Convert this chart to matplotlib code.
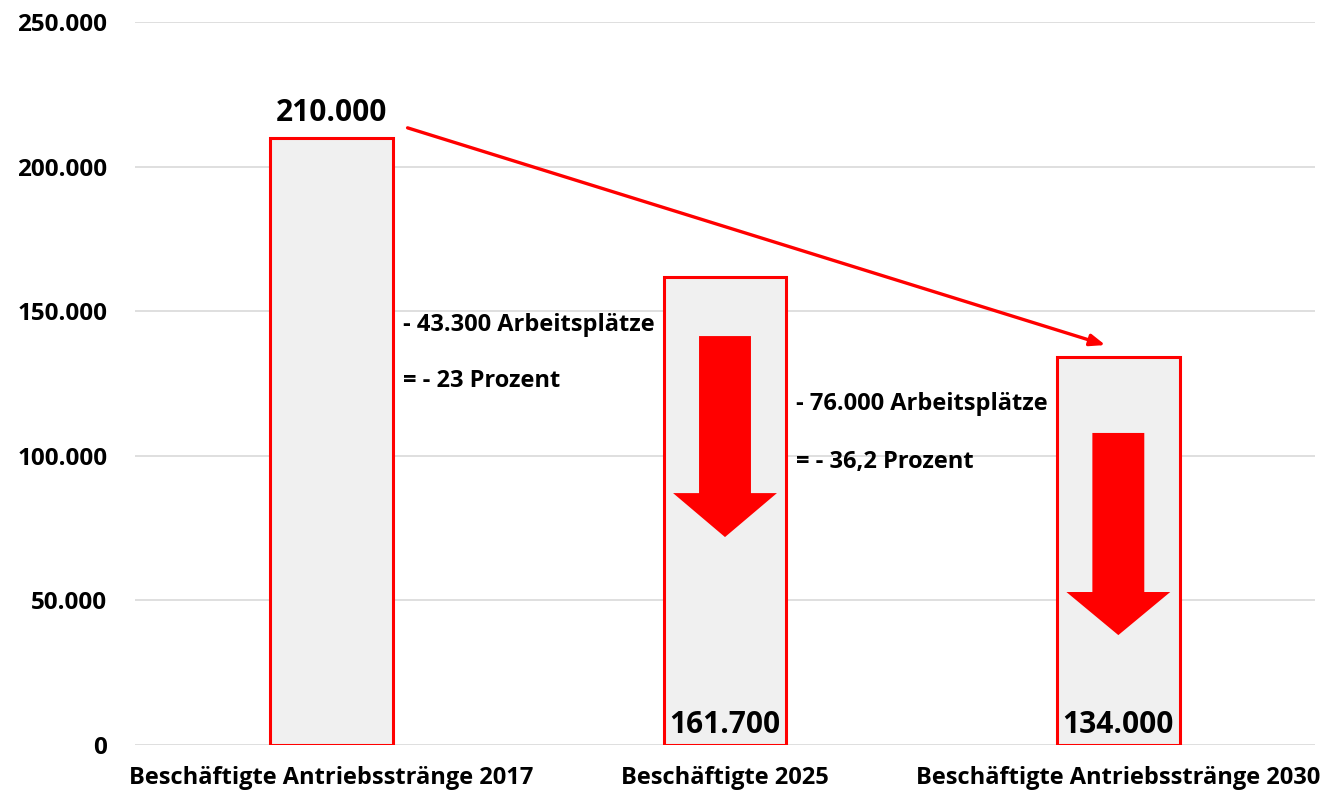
import matplotlib.pyplot as plt
import matplotlib.patches as patches

# Daten
kategorien = ["Beschäftigte Antriebsstränge 2017", "Beschäftigte 2025",
              "Beschäftigte Antriebsstränge 2030"]
werte = [210000, 161700, 134000]
wert_labels = ["210.000", "161.700", "134.000"]
y_ticks = [0, 50000, 100000, 150000, 200000, 250000]
y_tick_labels = ["0", "50.000", "100.000", "150.000", "200.000", "250.000"]
hinweise = [("- 43.300 Arbeitsplätze", "= - 23 Prozent"),
            ("- 76.000 Arbeitsplätze", "= - 36,2 Prozent")]

plt.rcParams['font.family'] = ['Open Sans', 'DejaVu Sans']
plt.rcParams['font.weight'] = 'bold'

fig = plt.figure(figsize=(13.26, 7.9), dpi=100)
ax = fig.add_axes([135 / 1326, 45 / 790, 1180 / 1326, 723 / 790])

x = list(range(len(werte)))
bw = 0.312

# Gitter
ax.set_axisbelow(True)
ax.yaxis.grid(True, color="#d9d9d9", linewidth=1.2)
for s in ax.spines.values():
    s.set_visible(False)

ax.bar(x, werte, width=bw, color="#f0f0f0", edgecolor="#ff0000", linewidth=2.2,
       zorder=2)

ax.set_xlim(-0.5, 2.5)
ax.set_ylim(0, 250000)
ax.set_yticks(y_ticks)
ax.set_yticklabels(y_tick_labels, fontsize=17.5, fontweight='bold')
ax.set_xticks(x)
ax.set_xticklabels(kategorien, fontsize=17, fontweight='bold')
ax.tick_params(axis='y', length=0, pad=20)
ax.tick_params(axis='x', length=0, pad=15)

# Wertbeschriftungen
ax.text(x[0], werte[0] + 8500, wert_labels[0], ha='center', va='center',
        fontsize=21.5, fontweight='bold')
for i in (1, 2):
    ax.text(x[i], 7000, wert_labels[i], ha='center', va='center',
            fontsize=21.5, fontweight='bold', zorder=4)

# Hinweistexte neben den Balken
for i, (z1, z2) in enumerate(hinweise):
    xt = x[i] + bw / 2 + 0.025
    ax.text(xt, 145100 if i == 0 else 118000, z1, ha='left', va='center',
            fontsize=17, fontweight='bold')
    ax.text(xt, 125800 if i == 0 else 98000, z2, ha='left', va='center',
            fontsize=17, fontweight='bold')

# große rote Pfeile in den Balken 2025 und 2030
pfeile = [(1, 141400, 87100, 71900), (2, 107900, 52900, 38000)]
for i, top, kopf, spitze in pfeile:
    shaft = 0.066
    head = 0.132
    cx = x[i]
    poly = [(cx - shaft, top), (cx + shaft, top), (cx + shaft, kopf),
            (cx + head, kopf), (cx, spitze), (cx - head, kopf),
            (cx - shaft, kopf)]
    ax.add_patch(patches.Polygon(poly, closed=True, facecolor="#ff0000",
                                 edgecolor="none", zorder=3))

# dünner Trendpfeil
ax.annotate("", xy=(1.967, 138300), xytext=(0.193, 213400),
            arrowprops=dict(arrowstyle="-|>,head_length=0.9,head_width=0.35",
                            color="#ff0000", lw=2.4, shrinkA=0, shrinkB=0),
            zorder=5)

plt.savefig("out.png", dpi=100)
plt.close()
